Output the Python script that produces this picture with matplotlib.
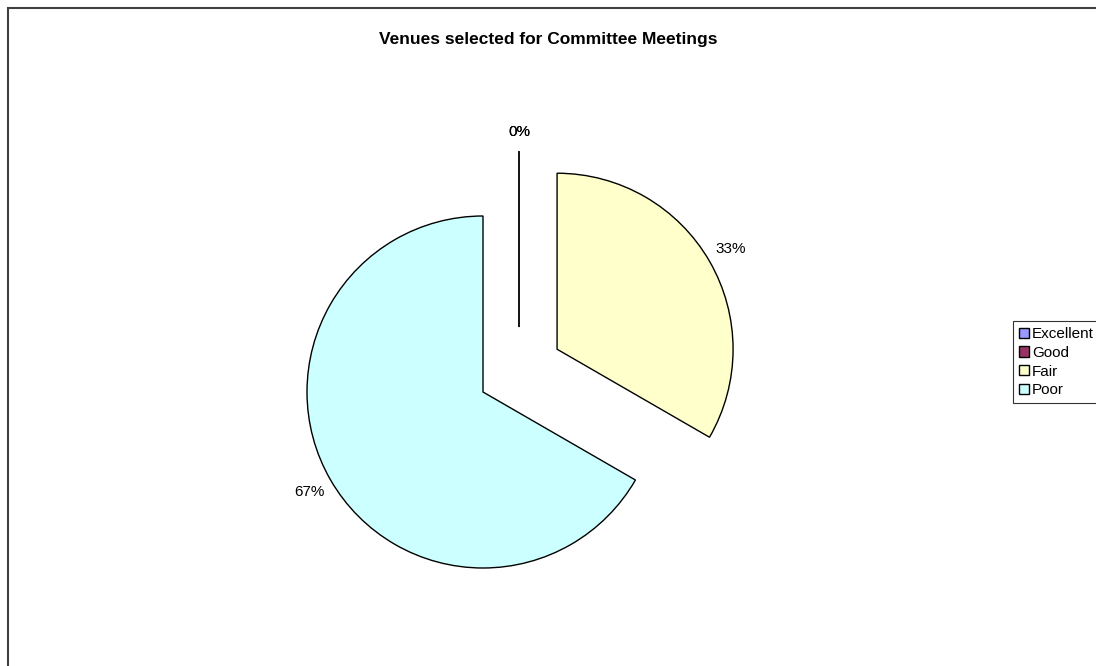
import matplotlib.pyplot as plt
from matplotlib.patches import Rectangle

# survey result: venue ratings
ratings = ["Excellent", "Good", "Fair", "Poor"]
counts = [0, 0, 1, 2]
colors = ["#9999FF", "#993366", "#FFFFCC", "#CCFFFF"]

plt.rcParams['font.family'] = ['Liberation Sans', 'DejaVu Sans']

W, H, R = 1096, 666, 176.0   # figure size in px, pie radius in px
cx, cy = 483, 392             # pie centre in px

fig = plt.figure(figsize=(W / 100, H / 100), dpi=100)
ax = fig.add_axes([0, 0, 1, 1])

wedges, texts, autotexts = ax.pie(
    counts, colors=colors, startangle=90, counterclock=False,
    explode=[0.369, 0.369, 0.486, 0], radius=1,
    autopct='%1.0f%%', pctdistance=1.14,
    wedgeprops=dict(edgecolor='black', linewidth=1.0),
    textprops=dict(fontsize=11, color='black'))

# empty slices sit a bit to the right of the pulled-out wedge
for i, c in enumerate(counts):
    if c == 0:
        w = wedges[i]
        w.set_center((w.center[0] + 0.2045, w.center[1]))
        x, y = autotexts[i].get_position()
        autotexts[i].set_position((x + 0.2045, y - 0.03))

ax.set_xlim(-cx / R, (W - cx) / R)
ax.set_ylim((cy - H) / R, cy / R)
ax.set_aspect('auto')
ax.axis('off')

fig.text(0.5, 1 - 39.5 / H, "Venues selected for Committee Meetings",
         ha='center', va='center', fontsize=12.5, fontweight='bold')

leg = fig.legend(wedges, ratings, loc='upper left',
                 bbox_to_anchor=(1013 / W, 1 - 321 / H), borderaxespad=0,
                 fontsize=11, frameon=True, fancybox=False,
                 handlelength=0.65, handleheight=0.65, handletextpad=0.2,
                 labelspacing=0.31, borderpad=0.4)
leg.get_frame().set_edgecolor('black')
leg.get_frame().set_linewidth(0.8)

# chart area border
fig.patches.append(Rectangle((7.5 / W, -0.1), 1.2, 1.1 - 7.5 / H,
                             transform=fig.transFigure, fill=False,
                             edgecolor='#404040', linewidth=1.5))

fig.savefig('out.png', dpi=100)
